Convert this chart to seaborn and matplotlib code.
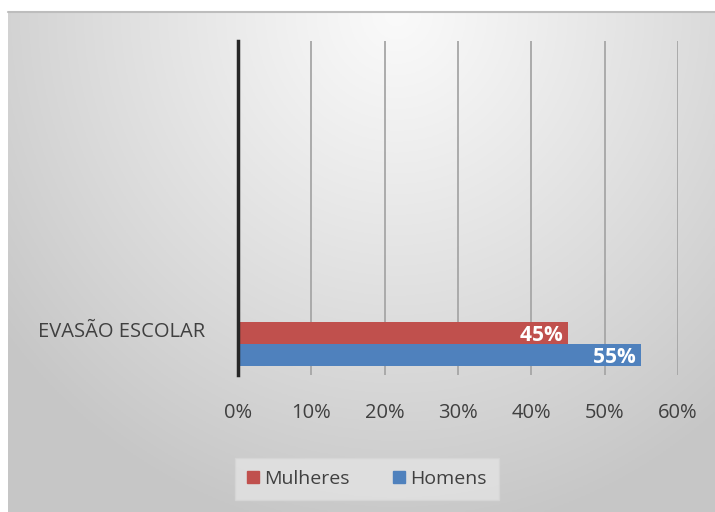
import numpy as np
import pandas as pd
import seaborn as sns
import matplotlib
matplotlib.use("Agg")
import matplotlib.pyplot as plt
from matplotlib.transforms import ScaledTranslation

categorias = ["EVASÃO ESCOLAR"]
series = ["Mulheres", "Homens"]
valores_mulheres = [0.45]
valores_homens = [0.55]
xticks = [0.0, 0.1, 0.2, 0.3, 0.4, 0.5, 0.6]
xtick_labels = ["0%", "10%", "20%", "30%", "40%", "50%", "60%"]
cores = ["#C0504D", "#4F81BD"]

df = pd.DataFrame({
    "categoria": categorias * 2,
    "sexo": [series[0]] * len(categorias) + [series[1]] * len(categorias),
    "valor": valores_mulheres + valores_homens,
})

sns.set_theme(style="white")
plt.rcParams["font.family"] = ["Open Sans", "DejaVu Sans"]

W, H = 715, 512
fig = plt.figure(figsize=(W / 100, H / 100), dpi=100, facecolor="white")

# background gradient (Excel style)
bg = fig.add_axes([8 / W, 0, (W - 8) / W, (H - 12) / H])
nx, ny = 300, 220
xx, yy = np.meshgrid(np.linspace(0, 1, nx), np.linspace(0, 1, ny))
d = np.sqrt(((xx - 0.55) / 0.7) ** 2 + ((yy - 1.0) / 1.05) ** 2)
d = np.clip(d, 0, 1)
g = 0.98 - 0.2 * d ** 1.1
img = np.dstack([g, g, g])
bg.imshow(img, origin="lower", aspect="auto", extent=[0, 1, 0, 1])
bg.set_axis_off()
fig.add_artist(plt.Line2D([8 / W, 1], [(H - 12) / H, (H - 12) / H], color="#bdbdbd", lw=1.5))

ax = fig.add_axes([238 / W, (H - 375) / H, (678 - 238) / W, (375 - 41) / H])
ax.patch.set_alpha(0)
sns.barplot(data=df, x="valor", y="categoria", hue="sexo", orient="h",
            palette=cores, width=0.8, ax=ax, saturation=1, legend=True,
            edgecolor="none", linewidth=0)

ax.set_xlim(0, 0.6)
ax.set_ylim(0.564, -5.49)
ax.set_xticks(xticks)
ax.set_xticklabels(xtick_labels, fontsize=14.5, color="#404040")
ax.tick_params(axis="x", length=0, pad=20)
ax.tick_params(axis="y", length=0, pad=24)
for lbl in ax.get_yticklabels():
    lbl.set_fontsize(14.5)
    lbl.set_color("#404040")
    lbl.set_transform(lbl.get_transform() + ScaledTranslation(0, 10 / 72, fig.dpi_scale_trans))
ax.set_xlabel("")
ax.set_ylabel("")
ax.grid(axis="x", color="#a6a6a6", lw=1.3)
ax.grid(axis="y", visible=False)
ax.set_axisbelow(True)
for s in ["top", "right", "bottom"]:
    ax.spines[s].set_visible(False)
ax.spines["left"].set_color("#262626")
ax.spines["left"].set_linewidth(2.5)
ax.spines["left"].set_zorder(5)

for cont in ax.containers:
    for p in cont.patches:
        v = p.get_width()
        ax.text(p.get_x() + v, p.get_y() + p.get_height() * 0.6, f"{v:.0%} ",
                ha="right", va="center", color="white", fontsize=15, fontweight="bold")

ax.get_legend().remove()
handles = [plt.Rectangle((0, 0), 1, 1, color=c) for c in cores]
leg = fig.legend(handles, series, loc="center", bbox_to_anchor=(367 / W, 33 / H),
                 ncol=2, frameon=True, fontsize=14, handlelength=0.6, handleheight=0.6,
                 handletextpad=0.3, columnspacing=2.2, borderpad=0.6, borderaxespad=0,
                 fancybox=False)
leg.get_frame().set_facecolor("#e3e3e3")
leg.get_frame().set_edgecolor("#d6d6d6")
for t in leg.get_texts():
    t.set_color("#404040")

fig.savefig("out.png", dpi=100, facecolor="white")
